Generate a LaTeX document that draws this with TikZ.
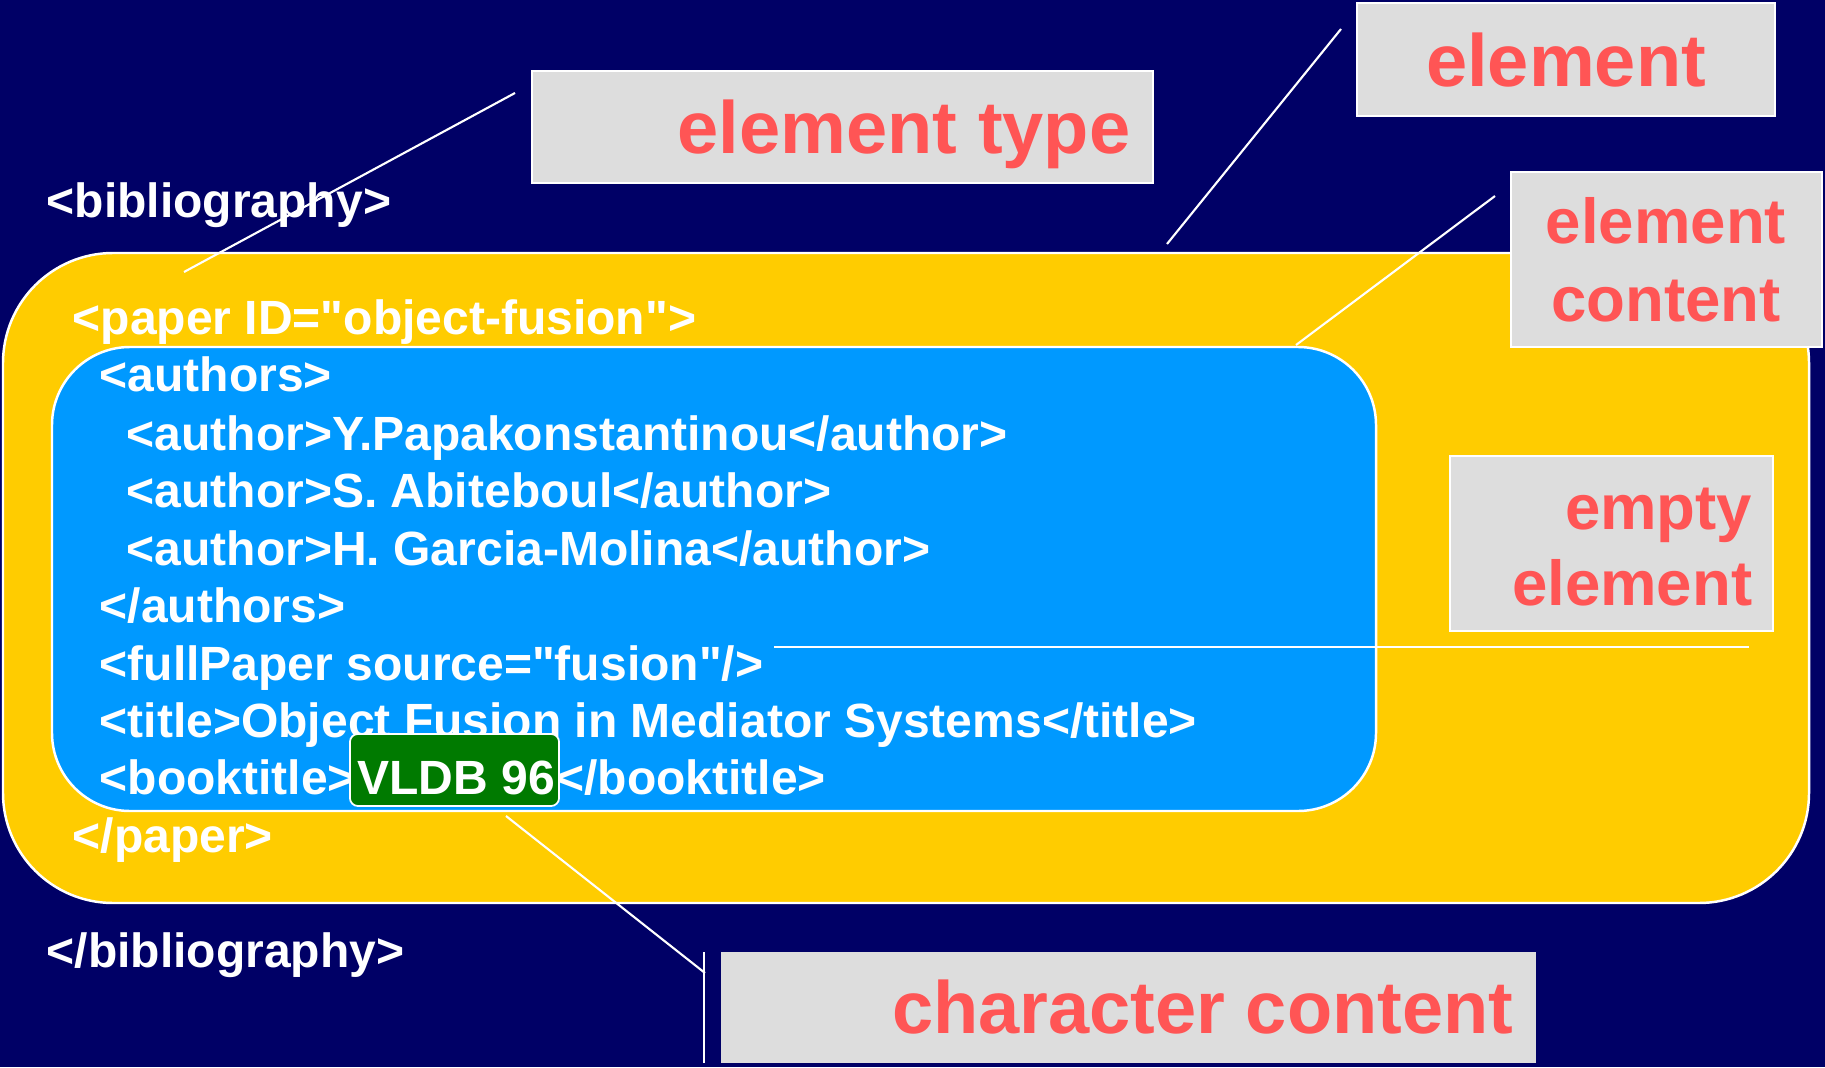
\documentclass[tikz,border=0pt]{standalone}
\usepackage{fontspec}
% plain ASCII text: no TeX quote/dash ligatures
\setmainfont{Liberation Sans}[Ligatures=TeXOff]
\definecolor{navybg}{HTML}{000066}
\definecolor{paperfill}{HTML}{FFCC00}
\definecolor{authorsfill}{HTML}{0099FF}
\definecolor{charfill}{HTML}{007A00}
\definecolor{labelgrey}{HTML}{DDDDDD}
\definecolor{labelred}{HTML}{FF5555}
\begin{document}
\begin{tikzpicture}[x=0.01cm, y=-0.01cm,
  xmltext/.style={text=white, inner sep=0pt, anchor=base west,
    font=\fontsize{13.66pt}{16pt}\selectfont\bfseries},
  lblbox/.style={fill=labelgrey, draw=white, line width=0.6pt},
  lblbig/.style={text=labelred, inner sep=0pt,
    font=\fontsize{21.05pt}{25pt}\selectfont\bfseries},
  lblmid/.style={text=labelred, inner sep=0pt,
    font=\fontsize{18.07pt}{22pt}\selectfont\bfseries},
  callout/.style={draw=white, line width=0.6pt}]

\useasboundingbox (0,0) rectangle (1825,1067);
\fill[navybg] (0,0) rectangle (1825,1067);

% nested element boxes
\draw[fill=paperfill, draw=white, line width=0.7pt, rounded corners=1.1cm]
  (3,253) rectangle (1809,903);
\draw[fill=authorsfill, draw=white, line width=0.7pt, rounded corners=0.78cm]
  (52,347) rectangle (1376,811);

% XML source
\node[xmltext] (bibopen)  at (46,218)  {<bibliography>};
\node[xmltext] (paperopen) at (72,335) {<paper ID="object-fusion">};
\node[xmltext] (authopen) at (99,392)  {<authors>};
\node[xmltext] (auth1)    at (126,450) {<author>Y.Papakonstantinou</author>};
\node[xmltext] (auth2)    at (126,507) {<author>S. Abiteboul</author>};
\node[xmltext] (auth3)    at (126,565) {<author>H. Garcia-Molina</author>};
\node[xmltext] (authclose) at (99,622) {</authors>};
\node[xmltext] (fullpaper) at (99,680) {<fullPaper source="fusion"/>};
\node[xmltext] (title)    at (99,737)  {<title>Object Fusion in Mediator Systems</title>};
\node[xmltext] (btopen)   at (99,794)  {<booktitle>};
\node[draw=white, line width=0.5pt, fill=charfill, rounded corners=0.08cm,
  minimum width=2.09cm, minimum height=0.72cm, inner sep=0pt] (vldbbox) at (454.5,770) {};
\node[xmltext] (vldb) at (btopen.base east) {VLDB 96};
\node[xmltext] (btclose)  at (vldb.base east) {</booktitle>};
\node[xmltext] (paperclose) at (72,852) {</paper>};
\node[xmltext] (bibclose) at (46,967)  {</bibliography>};

% labels
\node[lblbox, minimum width=6.21cm, minimum height=1.12cm] (typebox) at (842.5,127) {};
\node[lblbig, anchor=base east] (typetext) at (1131,154) {element type};

\node[lblbox, minimum width=4.18cm, minimum height=1.13cm] (elembox) at (1566,59.5) {};
\node[lblbig, anchor=base] (elemtext) at (1566,87) {element};

\node[lblbox, minimum width=3.11cm, minimum height=1.75cm] (contbox) at (1666.5,259.5) {};
\node[lblmid, anchor=base] (conttext1) at (1666,244) {element};
\node[lblmid, anchor=base] (conttext2) at (1666,321) {content};

\node[lblbox, minimum width=3.23cm, minimum height=1.75cm] (emptybox) at (1611.5,543.5) {};
\node[lblmid, anchor=base east] (emptytext1) at (1753,529) {empty};
\node[lblmid, anchor=base east] (emptytext2) at (1753,605) {element};

\node[lblbox, draw=none, minimum width=8.15cm, minimum height=1.11cm] (charbox) at (1128.5,1007.5) {};
\node[lblbig, anchor=base east] (chartext) at (1514,1033) {character content};

% callout lines
\coordinate (typefrom) at (515,93);
\coordinate (typeto)   at (184,272);
\coordinate (elemfrom) at (1341,29);
\coordinate (elemto)   at (1167,244);
\coordinate (contfrom) at (1495,196);
\coordinate (contto)   at (1296,345);
\coordinate (emptyfrom) at (1749,647);
\coordinate (emptyto)  at (774,647);
\coordinate (barT) at (704,952);
\coordinate (barB) at (704,1063);
\coordinate (charknee) at (705,973);
\coordinate (charto) at (506,816);

\draw[callout] (typefrom) -- (typeto);
\draw[callout] (elemfrom) -- (elemto);
\draw[callout] (contfrom) -- (contto);
\draw[callout] (emptyfrom) -- (emptyto);
\draw[callout] (barT) -- (barB);
\draw[callout] (charknee) -- (charto);
\end{tikzpicture}
\end{document}
